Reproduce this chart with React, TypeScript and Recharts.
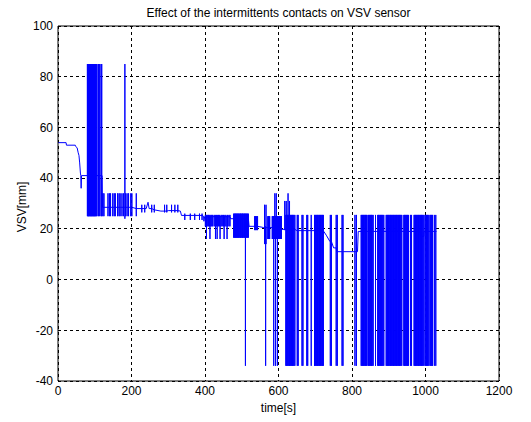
import React from "react";
import {
  LineChart,
  Line,
  XAxis,
  YAxis,
  CartesianGrid,
  ReferenceLine,
} from "recharts";

const FONT = "'Liberation Sans', Arial, Helvetica, sans-serif";
const TITLE = "Effect of the intermittents contacts on VSV sensor";

const xTicks = [0, 200, 400, 600, 800, 1000, 1200];
const yTicks = [-40, -20, 0, 20, 40, 60, 80, 100];

// slow trace of the sensor: time [s] and VSV [mm]
const baseTime = [
  0, 22, 23, 47, 48, 52, 55, 57, 59, 61, 62, 63, 64, 120, 121, 200, 213, 240,
  245, 248, 262, 280, 300, 333, 336, 396, 397, 399, 470, 520, 560, 605, 650,
  722, 730, 740, 750, 758, 815, 817, 985, 987, 994, 996, 1030,
];
const baseLevel = [
  54, 54, 53, 53, 52.5, 52, 50, 49, 46, 42, 41, 36, 41, 41, 28.5, 28.5, 28, 28,
  30.5, 28, 27.5, 27, 27.2, 27, 25.3, 25, 23, 24.8, 24, 21, 20.5, 19.8, 19.3,
  19.2, 17.5, 15, 12.5, 11, 11, 19, 19, 17, 17, 19, 19,
];

// spike times of each burst of intermittent contacts
const burstA = [
  80, 81.5, 83, 84, 85.5, 87, 88.5, 90, 91, 92.5, 94, 95.5, 97, 98, 99.5, 101,
  102.5, 104, 106, 110, 112.5, 117, 119,
];
const spikeLate = [182];
const burstB = [
  122, 125, 136, 140, 143, 149, 153, 156, 162, 166, 169, 174, 178, 184, 188,
  192, 198, 201, 213,
];
const ripple1 = [228, 236, 255, 262, 290, 296, 309, 318, 326];
const ripple2 = [345, 360, 372, 385, 392];
const burstC = [
  401, 403, 405.5, 408, 410, 413, 416, 418.5, 421, 425, 428, 431, 434.5, 437,
  440, 444, 447, 450.5, 454, 457, 461, 465, 468,
];
const burstCdeep = [404, 413.5, 428.5, 433, 441, 452, 460];
const burstD = [
  478, 480, 482, 483.5, 485.5, 487.5, 489, 491, 493, 495, 496.5, 498.5, 500.5,
  502, 504, 506, 508, 509.5, 511.5, 513.5, 515.5, 518,
];
const ripple3 = [562, 566];
const ripple4 = [535, 537.5, 540, 543];
const downSpikes = [510, 565, 587, 592, 597];
const burstE = [
  571, 572.5, 574, 576, 583, 584.5, 586, 588, 589.5, 591, 593, 594.5, 596, 598,
  599.5, 601, 603, 604.5, 606, 608,
];
const upSpikesA = [590, 594, 626];
const upSpikesB = [617, 621, 630];
const burstF = [
  620, 622, 624, 626, 628, 630, 632, 634, 636, 638, 640, 642, 644.5, 651, 653.5,
  664, 666.5, 677, 679.5, 689, 698, 700, 702, 704, 706, 708, 710, 712, 714, 716,
  718, 720, 722, 741, 744, 757, 760, 773, 775.5, 808, 812, 825, 827, 829, 831,
  833, 835, 837, 839, 841, 845, 847, 849, 851, 853, 855, 857.5, 864, 870, 872,
  874, 876, 878, 880, 882, 884, 886.5, 893, 895, 897, 899, 901, 903, 905, 907,
  909, 911, 913, 915, 917, 919, 921, 923, 925, 927, 929, 931, 933, 935.5, 941,
  943, 945, 947, 949, 951, 953.5, 959, 962, 969, 971, 973, 975, 977, 979, 981,
  983, 985, 987, 989, 991, 993, 995.5, 999, 1001, 1003, 1005, 1007, 1009.5,
  1013, 1015, 1017, 1019, 1024, 1028,
];

// [times, upper value, lower value]
const bursts: [number[], number, number][] = [
  [burstA, 85, 25],
  [spikeLate, 85, 24],
  [burstB, 34, 25],
  [ripple1, 29.5, 26.5],
  [ripple2, 26, 23.5],
  [burstC, 25.5, 21],
  [burstCdeep, 25, 16],
  [burstD, 26, 16.5],
  [ripple3, 29.5, 14],
  [ripple4, 25, 19.5],
  [downSpikes, 21, -34],
  [burstE, 25, 16],
  [upSpikesA, 34, 19.5],
  [upSpikesB, 31, 19.5],
  [burstF, 25.5, -34],
];

// level of the slow trace in force at time t
const levelAt = (t: number) => {
  let v = baseLevel[0];
  baseTime.forEach((bt, i) => {
    if (bt <= t) v = baseLevel[i];
  });
  return v;
};

type Ev = { t: number; hi?: number; lo?: number; v?: number };
const events: Ev[] = [
  ...baseTime.map((t, i) => ({ t, v: baseLevel[i] })),
  ...bursts.flatMap(([times, hi, lo]) => times.map((t) => ({ t, hi, lo }))),
].sort((a, b) => a.t - b.t || (a.v !== undefined ? -1 : 1));

const data: { t: number; v: number }[] = [];
events.forEach((e) => {
  if (e.v !== undefined) {
    data.push({ t: e.t, v: e.v });
    return;
  }
  const b = levelAt(e.t);
  data.push({ t: e.t, v: b }, { t: e.t, v: e.hi! }, { t: e.t, v: e.lo! }, { t: e.t, v: b });
});

const tickStyle = { fill: "#000", fontSize: 12, fontFamily: FONT };

const App = () => {
  return (
    <div
      style={{
        position: "absolute",
        left: 0,
        top: 0,
        width: 531,
        height: 422,
        background: "#fff",
        fontFamily: FONT,
      }}
    >
      <div
        style={{
          position: "absolute",
          left: 58,
          width: 441,
          top: 6,
          lineHeight: "14px",
          fontSize: 12,
          textAlign: "center",
          color: "#000",
        }}
      >
        {TITLE}
      </div>

      <LineChart
        width={531}
        height={422}
        data={data}
        margin={{ top: 26, right: 32, bottom: 11, left: 8 }}
      >
        <CartesianGrid
          stroke="#000"
          strokeDasharray="3 3"
          shapeRendering="crispEdges"
        />
        <XAxis
          type="number"
          dataKey="t"
          domain={[0, 1200]}
          ticks={xTicks}
          interval={0}
          height={30}
          tickLine={false}
          tickSize={0}
          tickMargin={5}
          axisLine={{ stroke: "#000" }}
          tick={tickStyle}
          allowDataOverflow
        />
        <YAxis
          type="number"
          domain={[-40, 100]}
          ticks={yTicks}
          interval={0}
          width={50}
          tickLine={false}
          tickSize={0}
          tickMargin={5}
          axisLine={{ stroke: "#000" }}
          tick={tickStyle}
          allowDataOverflow
        />
        <ReferenceLine x={1200} stroke="#000" />
        <ReferenceLine y={100} stroke="#000" />
        <Line
          type="linear"
          dataKey="v"
          stroke="#0000ff"
          strokeWidth={1}
          dot={false}
          isAnimationActive={false}
        />
      </LineChart>

      <div
        style={{
          position: "absolute",
          left: 58,
          width: 441,
          top: 401,
          lineHeight: "14px",
          fontSize: 12,
          textAlign: "center",
          color: "#000",
        }}
      >
        time[s]
      </div>
      <div
        style={{
          position: "absolute",
          left: 22,
          top: 207,
          fontSize: 12,
          lineHeight: "14px",
          whiteSpace: "nowrap",
          color: "#000",
          transform: "translate(-50%, -50%) rotate(-90deg)",
        }}
      >
        VSV[mm]
      </div>
    </div>
  );
};

export default App;
